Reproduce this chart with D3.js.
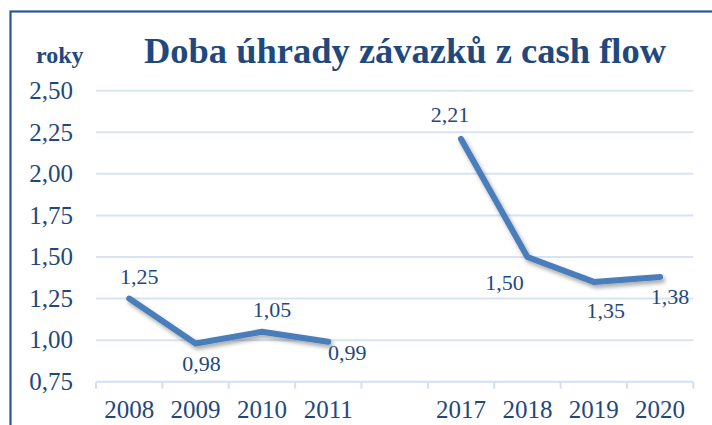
<!DOCTYPE html>
<html lang="cs">
<head>
    <meta charset="UTF-8">
    <title>Doba úhrady závazků z cash flow</title>
    <script src="https://d3js.org/d3.v7.min.js"></script>
    <style>
        body { margin: 0; background: #fff; }
        svg { display: block; font-family: "Liberation Serif", "Times New Roman", serif; }
        .grid line { stroke: #d9e4f3; stroke-width: 2; }
        .tick-label { fill: #1f497d; font-size: 25px; }
        .data-label { fill: #1f497d; font-size: 22px; }
    </style>
</head>
<body>
    <svg id="chart" width="712" height="425"></svg>

    <script>
        // Years (an empty slot between 2011 and 2017, as in the original)
        const years = ["2008", "2009", "2010", "2011", "", "2017", "2018", "2019", "2020"];
        const values = [1.25, 0.98, 1.05, 0.99, null, 2.21, 1.50, 1.35, 1.38];
        const yTicks = [0.75, 1.00, 1.25, 1.50, 1.75, 2.00, 2.25, 2.50];
        // label offset from the point [dx, dy]
        const labelOffsets = [[10, -15], [6, 28], [10, -15], [19, 18], null, [-11, -17], [-23, 33], [12, 36], [10, 27]];

        const fmt = v => v.toFixed(2).replace(".", ",");

        const svg = d3.select("#chart");
        const keys = years.map((y, i) => y || "gap" + i);
        const data = keys.map((k, i) => ({ key: k, year: years[i], value: values[i], off: labelOffsets[i] }));

        const x = d3.scaleBand().domain(keys).range([96, 693.3]);
        const y = d3.scaleLinear().domain([0.75, 2.5]).range([381.7, 90.7]);

        // outer frame (cropped at right and bottom)
        svg.append("rect")
            .attr("x", 10.5).attr("y", 11.5)
            .attr("width", 760).attr("height", 460)
            .attr("fill", "none").attr("stroke", "#2c5690").attr("stroke-width", 2.2);

        // gridlines
        svg.append("g").attr("class", "grid")
            .selectAll("line").data(yTicks.slice(1)).enter().append("line")
            .attr("x1", 96).attr("x2", 693.3)
            .attr("y1", d => y(d)).attr("y2", d => y(d));

        // x axis with ticks at band edges
        const xAxis = svg.append("g");
        xAxis.append("line")
            .attr("x1", 96).attr("x2", 693.3)
            .attr("y1", y(0.75)).attr("y2", y(0.75))
            .attr("stroke", "#d3e0f1").attr("stroke-width", 2);
        const edges = keys.map(k => x(k)).concat([x.range()[1]]);
        xAxis.selectAll(".edge").data(edges).enter().append("line")
            .attr("class", "edge")
            .attr("x1", d => d).attr("x2", d => d)
            .attr("y1", y(0.75)).attr("y2", y(0.75) + 7)
            .attr("stroke", "#d3e0f1").attr("stroke-width", 2);
        xAxis.selectAll("text").data(data).enter().append("text")
            .attr("class", "tick-label")
            .attr("x", d => x(d.key) + x.bandwidth() / 2)
            .attr("y", 418)
            .attr("text-anchor", "middle")
            .text(d => d.year);

        // y axis labels
        svg.append("g").selectAll("text").data(yTicks).enter().append("text")
            .attr("class", "tick-label")
            .attr("x", 73)
            .attr("y", d => y(d))
            .attr("dy", "0.33em")
            .attr("text-anchor", "end")
            .text(fmt);

        // title and unit
        svg.append("text")
            .attr("x", 405).attr("y", 63)
            .attr("text-anchor", "middle")
            .attr("font-size", 36.5).attr("font-weight", "bold")
            .attr("fill", "#1f497d")
            .text("Doba úhrady závazků z cash flow");
        svg.append("text")
            .attr("x", 36).attr("y", 63)
            .attr("font-size", 24).attr("font-weight", "bold")
            .attr("fill", "#1f497d")
            .text("roky");

        // shadow
        const defs = svg.append("defs");
        const f = defs.append("filter").attr("id", "shadow")
            .attr("x", "-10%").attr("y", "-10%").attr("width", "130%").attr("height", "130%");
        f.append("feDropShadow")
            .attr("dx", 2).attr("dy", 3).attr("stdDeviation", 2)
            .attr("flood-color", "#000").attr("flood-opacity", 0.35);

        const line = d3.line()
            .defined(d => d.value != null)
            .x(d => x(d.key) + x.bandwidth() / 2)
            .y(d => y(d.value));

        svg.append("path").datum(data)
            .attr("fill", "none")
            .attr("stroke", "#4a7ebb")
            .attr("stroke-width", 6)
            .attr("stroke-linecap", "round")
            .attr("stroke-linejoin", "round")
            .attr("filter", "url(#shadow)")
            .attr("d", line);

        // data labels
        svg.append("g").selectAll("text").data(data.filter(d => d.value != null)).enter().append("text")
            .attr("class", "data-label")
            .attr("x", d => x(d.key) + x.bandwidth() / 2 + d.off[0])
            .attr("y", d => y(d.value) + d.off[1])
            .attr("text-anchor", "middle")
            .text(d => fmt(d.value));
    </script>
</body>
</html>
